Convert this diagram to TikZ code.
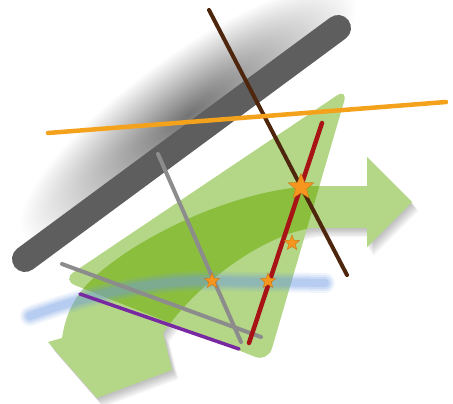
\documentclass[tikz,border=0pt]{standalone}
\usetikzlibrary{shapes.geometric}
\definecolor{lgreen}{RGB}{180,215,135}
\definecolor{dgreen}{RGB}{140,190,62}
\definecolor{barc}{RGB}{94,94,94}
\definecolor{orangel}{RGB}{244,162,28}
\definecolor{brownl}{RGB}{78,38,14}
\definecolor{redl}{RGB}{168,20,22}
\definecolor{greyl}{RGB}{140,140,140}
\definecolor{purplel}{RGB}{120,40,160}
\definecolor{bluel}{RGB}{110,155,225}
\definecolor{starc}{RGB}{247,150,30}
\newcommand\bandpath{(315,186) -- (367,186) -- (367,157) -- (412,202) -- (367,247) -- (367,228) -- (312,228) .. controls (265,235) and (200,280) .. (163,333) -- (172,370) -- (97,398) -- (48,342) -- (62,338) .. controls (68,300) and (85,280) .. (130,250) .. controls (190,212) and (260,188) .. (315,186) -- cycle}
\newcommand\tripath{(348,88) -- (268,362) -- (62,280) -- cycle}
\begin{document}
\begin{tikzpicture}[x=1pt,y=-1pt,
  ln/.style={line width=4pt, line cap=round},
  starbig/.style={star, star points=5, star point ratio=2.3, fill=starc, draw=starc!80!black, line width=0.4pt, minimum size=27pt, inner sep=0pt},
  starsmall/.style={starbig, minimum size=16pt}]
\useasboundingbox (0,0) rectangle (453,404);
% shadow of the bar
\begin{scope}
  \clip (-16,305) -- (394,3) -- (394,-10) -- (-16,-10) -- cycle;
  \begin{scope}[transform canvas={rotate around={36.3:(188,115)}}]
    \shade[inner color=black!55, outer color=white] (188,115) ellipse [x radius=205pt, y radius=60pt];
  \end{scope}
\end{scope}
% bar
\draw[barc, line width=26pt, line cap=round] (25,259) -- (338,28);
% shadow of the green band
\foreach \k in {1,...,7}{
  \fill[black, opacity=0.04, shift={(\k*0.9,\k*1.3)}] \bandpath;
}
% green band and triangle
\fill[lgreen] \bandpath;
\fill[lgreen, rounded corners=14pt] \tripath;
\begin{scope}
  \clip[rounded corners=14pt] \tripath;
  \fill[dgreen] \bandpath;
\end{scope}
% blue blurred band
\foreach \w/\o in {20/0.10, 16/0.14, 12/0.18, 8/0.22}{
  \draw[bluel, line width=\w pt, opacity=\o, line cap=round] (30,316) .. controls (80,298) and (140,282) .. (200,281) -- (325,283);
}
% lines
\draw[ln, purplel, line width=3.5pt] (80,294) -- (239,349);
\draw[ln, greyl] (158,154) -- (241,342);
\draw[ln, greyl] (62,264) -- (261,337);
\draw[ln, brownl] (209,10) -- (347,275);
\draw[ln, redl, line width=4.5pt] (322,123) -- (249,343);
\draw[ln, orangel, line width=4.5pt] (48,133) -- (446,102);
% stars
\node[starbig] (s1) at (301,187) {};
\node[starsmall] (s2) at (292,243) {};
\node[starsmall] (s3) at (268,281) {};
\node[starsmall] (s4) at (212,281) {};
\end{tikzpicture}
\end{document}
